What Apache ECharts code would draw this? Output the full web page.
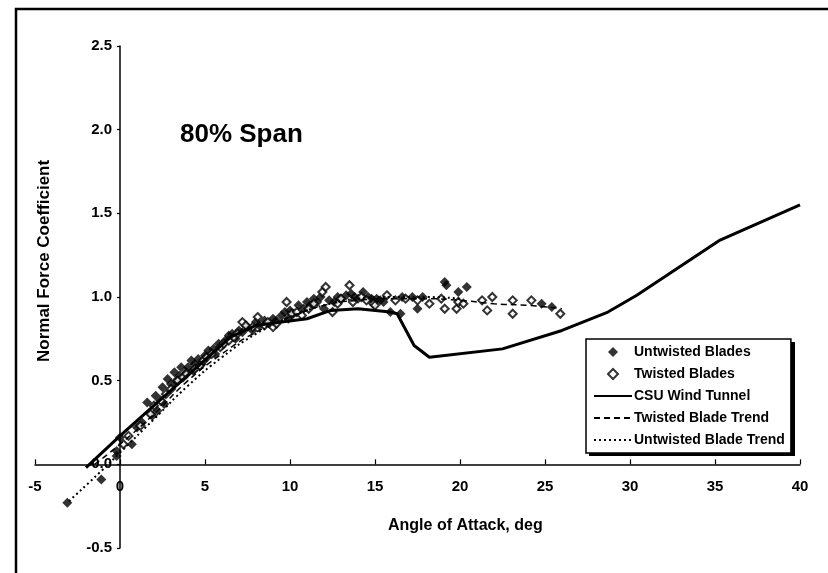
<!DOCTYPE html>
<html>
<head>
<meta charset="utf-8">
<title>Normal Force Coefficient - 80% Span</title>
<script src="https://cdn.jsdelivr.net/npm/echarts@6/dist/echarts.min.js"></script>
<style>
  html, body { margin: 0; padding: 0; background: #fff; }
  #chart { width: 828px; height: 573px; }
</style>
</head>
<body>
<div id="chart"></div>
<script>
// Angle of attack (deg) vs. normal force coefficient at 80% span

const xTicks = [-5, 0, 5, 10, 15, 20, 25, 30, 35, 40];
const yTicks = [-0.5, 0.0, 0.5, 1.0, 1.5, 2.0, 2.5];

// Field measurements, untwisted blades
const untwistedBlades = [
  [-3.1, -0.23], [-1.1, -0.09], [-0.2, 0.05], [-0.2, 0.08], [0.7, 0.12], [0.0, 0.16],
  [1.0, 0.22], [1.3, 0.25], [1.6, 0.37], [1.9, 0.29], [2.2, 0.32], [2.6, 0.36],
  [2.1, 0.41], [2.5, 0.46], [3.0, 0.48], [2.8, 0.51], [3.2, 0.55], [3.3, 0.50],
  [3.5, 0.53], [3.6, 0.58], [3.9, 0.55], [4.0, 0.58], [4.2, 0.62], [4.3, 0.56],
  [4.4, 0.60], [4.6, 0.63], [4.8, 0.60], [5.0, 0.65], [5.2, 0.68], [5.5, 0.69],
  [5.6, 0.66], [5.8, 0.72], [6.0, 0.71], [6.2, 0.74], [6.4, 0.77], [6.6, 0.78],
  [6.8, 0.75], [7.0, 0.80], [7.2, 0.79], [7.5, 0.82], [7.8, 0.80], [8.0, 0.85],
  [8.2, 0.83], [8.5, 0.86], [8.8, 0.84], [9.0, 0.87], [9.2, 0.86], [9.5, 0.89],
  [9.7, 0.91], [9.9, 0.87], [10.0, 0.92], [10.2, 0.90], [10.5, 0.95], [10.8, 0.93],
  [11.0, 0.97], [11.2, 0.95], [11.4, 0.99], [11.6, 0.97], [11.8, 1.00], [12.0, 0.93],
  [12.3, 0.98], [12.6, 0.97], [12.8, 1.00], [13.0, 0.99], [13.3, 1.01], [13.6, 1.02],
  [13.8, 1.00], [14.0, 0.99], [14.3, 1.03], [14.6, 1.00], [14.8, 0.99], [15.1, 0.99],
  [15.3, 0.98], [15.5, 0.97], [15.9, 0.91], [16.5, 0.90], [16.6, 1.00], [17.2, 1.00],
  [17.5, 0.93], [17.8, 1.00], [19.1, 1.09], [19.2, 1.07], [19.9, 1.03], [20.4, 1.06],
  [24.8, 0.96], [25.4, 0.94]
];

// Field measurements, twisted blades
const twistedBlades = [
  [0.2, 0.12], [0.5, 0.17], [1.2, 0.23], [1.8, 0.30], [2.0, 0.35], [2.4, 0.38],
  [2.7, 0.42], [3.0, 0.45], [3.4, 0.50], [3.7, 0.52], [3.9, 0.54], [4.4, 0.57],
  [4.7, 0.59], [4.9, 0.62], [5.1, 0.64], [5.4, 0.66], [5.9, 0.70], [6.1, 0.72],
  [6.4, 0.74], [6.7, 0.76], [6.9, 0.78], [7.2, 0.85], [7.4, 0.83], [7.8, 0.82],
  [8.1, 0.88], [8.5, 0.83], [8.7, 0.85], [9.0, 0.82], [9.2, 0.84], [9.8, 0.97],
  [10.1, 0.90], [10.4, 0.91], [10.7, 0.89], [11.1, 0.93], [11.4, 0.96], [11.9, 1.03],
  [12.1, 1.06], [12.5, 0.91], [12.8, 0.96], [13.0, 0.99], [13.5, 1.07], [13.7, 0.97],
  [14.2, 1.00], [14.5, 0.98], [14.9, 0.96], [15.0, 0.95], [15.7, 1.01], [16.2, 0.98],
  [16.8, 0.99], [17.5, 0.98], [18.2, 0.96], [18.9, 0.99], [19.1, 0.93], [19.8, 0.93],
  [19.9, 0.97], [20.2, 0.96], [21.3, 0.98], [21.6, 0.92], [21.9, 1.00], [23.1, 0.98],
  [23.1, 0.90], [24.2, 0.98], [25.9, 0.90]
];

// Wind tunnel reference curve
const csuWindTunnel = [
  [-2.0, -0.02], [0.0, 0.17], [6.5, 0.76], [8.0, 0.83], [9.5, 0.85], [11.0, 0.87],
  [12.4, 0.92], [14.0, 0.93], [15.9, 0.91], [16.3, 0.90], [17.3, 0.71], [18.2, 0.64],
  [22.5, 0.69], [26.0, 0.80], [28.7, 0.91], [30.4, 1.01], [35.3, 1.34], [40.0, 1.55]
];

// Fitted trends
const twistedTrend = [
  [-1.5, 0.0], [0.0, 0.12], [2.0, 0.30], [4.0, 0.50], [6.0, 0.66], [8.0, 0.79],
  [10.0, 0.88], [12.0, 0.95], [14.0, 0.98], [16.0, 0.99], [18.0, 0.99], [20.0, 0.98],
  [22.0, 0.96], [24.0, 0.95], [26.0, 0.93]
];
const untwistedTrend = [
  [-3.0, -0.22], [-1.0, -0.03], [0.0, 0.07], [2.0, 0.27], [4.0, 0.47], [6.0, 0.64],
  [8.0, 0.78], [10.0, 0.88], [12.0, 0.95], [14.0, 0.99], [16.0, 1.00], [18.0, 1.00],
  [20.0, 0.99]
];

const FONT = '"Liberation Sans", Arial, sans-serif';

const W = 828, H = 573;
const GRID = { left: 35, right: 28, top: 46, bottom: 25 };
const xMin = xTicks[0], xMax = xTicks[xTicks.length - 1];
const yMin = yTicks[0], yMax = yTicks[yTicks.length - 1];
const gridW = W - GRID.left - GRID.right;
const gridH = H - GRID.top - GRID.bottom;
// Axes cross at the origin: shift each axis in from the grid edge to zero
const xAxisShift = gridH * (0 - yMin) / (yMax - yMin);
const yAxisShift = gridW * (0 - xMin) / (xMax - xMin);

// Legend icons: a small diamond centred in a 38x10 icon box
const DIAMOND_ICON = 'path://M0,0M38,10M19,0L24,5L19,10L14,5Z';

// Legend frame placement (box plus a solid drop shadow)
const LEGEND_BOX = { x: 586, y: 339, w: 206, h: 114 };

const chart = echarts.init(document.getElementById('chart'), null, { renderer: 'canvas' });

chart.setOption({
  backgroundColor: '#ffffff',
  animation: false,
  grid: Object.assign({ containLabel: false }, GRID),
  xAxis: {
    type: 'value',
    position: 'bottom',
    offset: -xAxisShift,
    min: xMin,
    max: xMax,
    interval: 5,
    axisLine: { onZero: false, lineStyle: { color: '#000', width: 1.5 } },
    axisTick: { show: true, inside: true, length: 5, lineStyle: { color: '#000', width: 1.2 } },
    axisLabel: {
      color: '#000', fontFamily: FONT, fontWeight: 'bold', fontSize: 15, margin: 15,
      showMinLabel: true, showMaxLabel: true
    },
    splitLine: { show: false }
  },
  yAxis: {
    type: 'value',
    position: 'left',
    offset: -yAxisShift,
    min: yMin,
    max: yMax,
    interval: 0.5,
    axisLine: { onZero: false, lineStyle: { color: '#000', width: 1.5 } },
    axisTick: { show: true, inside: false, length: 3, lineStyle: { color: '#000', width: 1.2 } },
    axisLabel: {
      color: '#000', fontFamily: FONT, fontWeight: 'bold', fontSize: 15, margin: 8,
      formatter: v => v.toFixed(1)
    },
    splitLine: { show: false }
  },
  legend: {
    orient: 'vertical',
    left: LEGEND_BOX.x,
    top: LEGEND_BOX.y,
    padding: [6, 6, 6, 7],
    itemWidth: 38,
    itemHeight: 10,
    itemGap: 8,
    backgroundColor: '#ffffff',
    borderColor: '#000',
    borderWidth: 1.5,
    borderRadius: 0,
    z: 6,
    textStyle: { color: '#000', fontFamily: FONT, fontWeight: 'bold', fontSize: 14, padding: [0, 0, 0, -3] },
    data: [
      { name: 'Untwisted Blades', icon: DIAMOND_ICON },
      { name: 'Twisted Blades', icon: DIAMOND_ICON },
      'CSU Wind Tunnel',
      'Twisted Blade Trend',
      'Untwisted Blade Trend'
    ]
  },
  graphic: [
    {
      type: 'rect',
      silent: true,
      shape: { x: 16, y: 9, width: 830, height: 580 },
      style: { fill: 'none', stroke: '#000', lineWidth: 2.5 },
      z: 100
    },
    {
      // drop shadow behind the legend frame
      type: 'rect',
      silent: true,
      shape: { x: LEGEND_BOX.x + 3, y: LEGEND_BOX.y + 3, width: LEGEND_BOX.w, height: LEGEND_BOX.h },
      style: { fill: '#000' },
      z: 5
    },
    {
      type: 'text',
      left: 180, top: 122,
      style: { text: '80% Span', font: 'bold 26px ' + FONT, fill: '#000' }
    },
    {
      type: 'text',
      x: 388, y: 518,
      style: { text: 'Angle of Attack, deg', font: 'bold 16px ' + FONT, fill: '#000' }
    },
    {
      type: 'text',
      x: 36, y: 362,
      rotation: Math.PI / 2,
      style: { text: 'Normal Force Coefficient', font: 'bold 17px ' + FONT, fill: '#000' }
    }
  ],
  series: [
    {
      name: 'Untwisted Blades',
      type: 'scatter',
      data: untwistedBlades,
      symbol: 'diamond',
      symbolSize: 10,
      itemStyle: { color: '#000' },
      z: 2
    },
    {
      name: 'Twisted Blades',
      type: 'scatter',
      data: twistedBlades,
      symbol: 'diamond',
      symbolSize: 8,
      itemStyle: { color: '#fff', borderColor: '#000', borderWidth: 2 },
      z: 3
    },
    {
      name: 'CSU Wind Tunnel',
      type: 'line',
      data: csuWindTunnel,
      showSymbol: false,
      symbol: 'none',
      lineStyle: { color: '#000', width: 3 },
      itemStyle: { color: '#000', opacity: 0 },
      z: 4
    },
    {
      name: 'Twisted Blade Trend',
      type: 'line',
      data: twistedTrend,
      smooth: true,
      showSymbol: false,
      symbol: 'none',
      lineStyle: { color: '#000', width: 1.5, type: [6, 4] },
      itemStyle: { color: '#000', opacity: 0 },
      z: 5
    },
    {
      name: 'Untwisted Blade Trend',
      type: 'line',
      data: untwistedTrend,
      smooth: true,
      showSymbol: false,
      symbol: 'none',
      lineStyle: { color: '#000', width: 2, type: [2, 3] },
      itemStyle: { color: '#000', opacity: 0 },
      z: 5
    }
  ]
});
</script>
</body>
</html>
